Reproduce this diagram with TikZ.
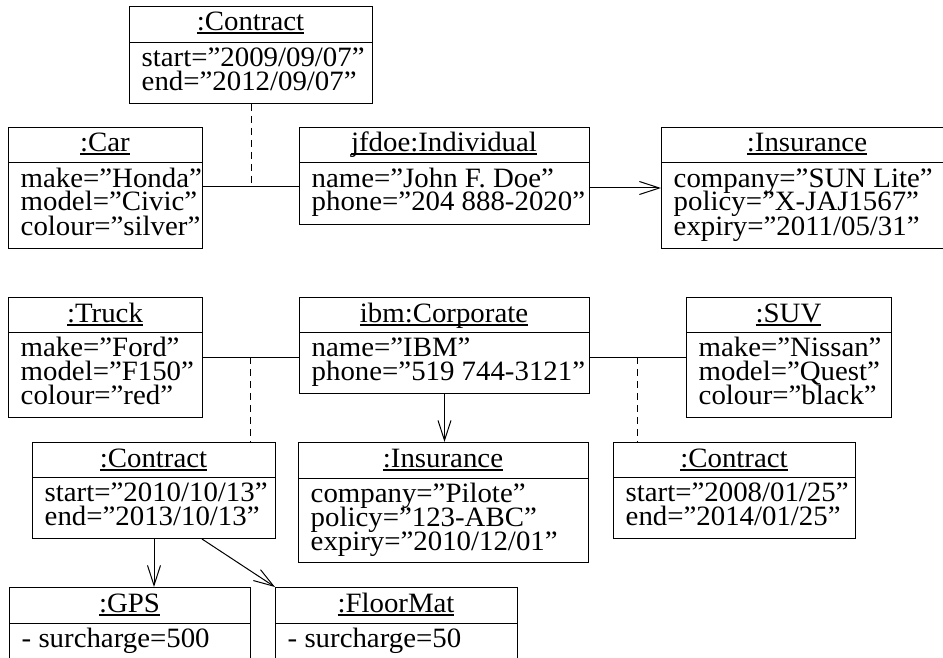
\documentclass[tikz,border=0pt]{standalone}
\usepackage{fontspec}
\setmainfont{Liberation Serif}[FakeStretch=1.03]
\usetikzlibrary{arrows.meta}
\newsavebox\hdrbox
\newcommand\hdr[1]{\sbox\hdrbox{#1}\rlap{\rule[-3.5pt]{\wd\hdrbox}{2pt}}\usebox\hdrbox}
\tikzset{
  every node/.style={font=\fontsize{28}{24}\selectfont, inner sep=0pt},
  attr/.style={anchor=base west, text height=17pt, text depth=6pt},
  objframe/.style={draw, line width=1pt, rectangle, inner sep=0pt},
  objline/.style={line width=1pt},
  assoc/.style={draw, line width=1pt},
  link/.style={draw, line width=1pt, dash pattern=on 7pt off 5pt},
  nav/.style={draw, line width=1pt, -{Straight Barb[length=20pt,width=13pt,line width=1pt]}}
}
% name, x1, y1, x2, ydiv, y2, header, attribute lines
\newcommand\objbox[8]{%
  \node[objframe, minimum width={(#4-#2)*1pt}, minimum height={(#6-#3)*1pt}, anchor=north west] (#1) at (#2,#3) {};
  \draw[objline] (#2,#5) -- (#4,#5);
  \node[anchor=base] (#1-h) at ({(#2+#4)/2},{#3+25}) {\hdr{#7}};
  \foreach \t [count=\i] in {#8} {\node[attr] (#1-a\i) at ({#2+12.5},{#5+24*\i}) {\t};}
}
\begin{document}
\begin{tikzpicture}[x=1pt,y=-1pt]
\useasboundingbox (0,0) rectangle (943,658);
\clip (0,0) rectangle (943,658);
\objbox{c1}{129}{6}{372}{43}{103}{:Contract}{start=”2009/09/07”, end=”2012/09/07”}
\objbox{car}{8}{127}{202}{163}{248}{:Car}{make=”Honda”, model=”Civic”, colour=”silver”}
\objbox{ind}{299}{127}{589}{163}{224}{jfdoe:Individual}{name=”John F. Doe”, phone=”204 888-2020”}
\objbox{ins1}{661}{127}{953}{163}{248}{:Insurance}{company=”SUN Lite”, policy=”X-JAJ1567”, expiry=”2011/05/31”}
\objbox{truck}{8}{297}{202}{332}{417}{:Truck}{make=”Ford”, model=”F150”, colour=”red”}
\objbox{corp}{299}{297}{589}{332}{393}{ibm:Corporate}{name=”IBM”, phone=”519 744-3121”}
\objbox{suv}{686}{297}{891}{332}{417}{:SUV}{make=”Nissan”, model=”Quest”, colour=”black”}
\objbox{c2}{32}{442}{275}{477}{538}{:Contract}{start=”2010/10/13”, end=”2013/10/13”}
\objbox{ins2}{298}{442}{588}{478}{562}{:Insurance}{company=”Pilote”, policy=”123-ABC”, expiry=”2010/12/01”}
\objbox{c3}{613}{442}{855}{477}{538}{:Contract}{start=”2008/01/25”, end=”2014/01/25”}
\objbox{gps}{9}{587}{250}{623}{700}{:GPS}{- surcharge=500}
\objbox{fm}{275}{587}{517}{623}{700}{:FloorMat}{- surcharge=50}
% connectors
\coordinate (j1) at (250,187);
\draw[assoc] (car.east |- j1) -- (ind.west |- j1);
\draw[link] (c1.south) -- (c1.south |- j1);
\coordinate (j0) at (620,188);
\draw[nav] (ind.east |- j0) -- (ins1.west |- j0);
\coordinate (j2) at (250,357);
\draw[assoc] (truck.east |- j2) -- (corp.west |- j2);
\draw[link] (j2) -- (c2.north -| j2);
\coordinate (j3) at (637,357);
\draw[assoc] (corp.east |- j3) -- (suv.west |- j3);
\draw[link] (j3) -- (c3.north -| j3);
\draw[nav] (corp.south) -- (corp.south |- ins2.north);
\draw[nav] (c2.south) -- (c2.south |- gps.north);
\coordinate (k) at (202,538);
\draw[nav] (c2.south -| k) -- (fm.north west);
\end{tikzpicture}
\end{document}
